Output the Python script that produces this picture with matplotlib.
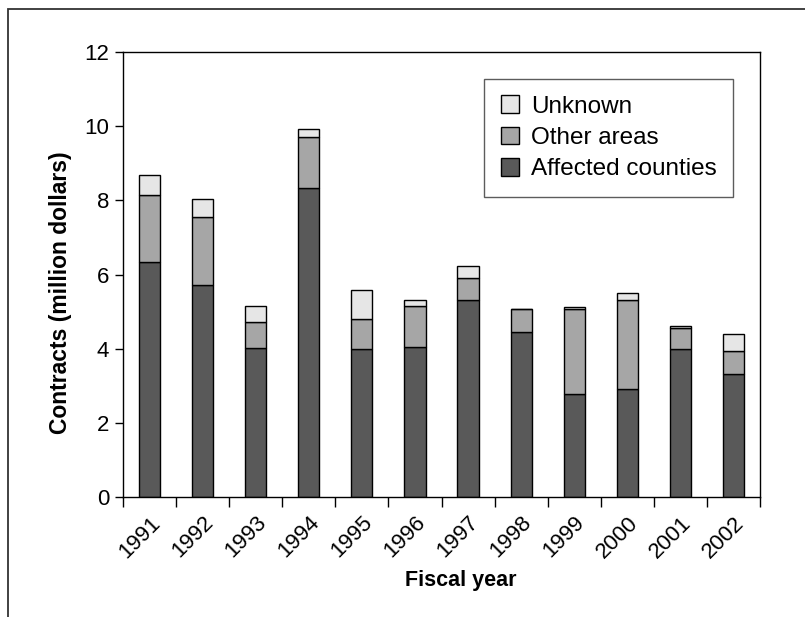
import matplotlib
matplotlib.use("Agg")
from matplotlib import pyplot as plt
from matplotlib.patches import Rectangle
import numpy as np

plt.rcParams['font.family'] = ['Liberation Sans', 'DejaVu Sans']

years = ['1991', '1992', '1993', '1994', '1995', '1996',
         '1997', '1998', '1999', '2000', '2001', '2002']
affected = [6.35, 5.71, 4.02, 8.32, 3.98, 4.04, 5.31, 4.45, 2.78, 2.90, 3.98, 3.32]
other = [1.79, 1.83, 0.69, 1.38, 0.82, 1.10, 0.59, 0.61, 2.30, 2.40, 0.57, 0.62]
unknown = [0.53, 0.49, 0.43, 0.22, 0.78, 0.18, 0.32, 0.02, 0.05, 0.19, 0.07, 0.46]

fig = plt.figure(figsize=(8.05, 6.17), dpi=100)
ax = fig.add_axes([0.1528, 0.1945, 0.7913, 0.7212])

# outer frame around the whole figure
fig.patches.append(Rectangle((8 / 805, -0.2), 1.2, 1.2 - 9 / 617,
                             transform=fig.transFigure, fill=False,
                             edgecolor='#333333', linewidth=1.3))

x = np.arange(len(years))
affected = np.array(affected)
other = np.array(other)
unknown = np.array(unknown)
w = 0.4
bar_kw = dict(width=w, edgecolor='black', linewidth=1.0)
ax.bar(x, affected, color='#595959', label='Affected counties', **bar_kw)
ax.bar(x, other, bottom=affected, color='#a6a6a6', label='Other areas', **bar_kw)
ax.bar(x, unknown, bottom=affected + other, color='#e6e6e6', label='Unknown', **bar_kw)

ax.set_xlim(-0.5, len(years) - 0.5)
ax.set_ylim(0, 12)
ax.set_yticks(range(0, 13, 2))
ax.tick_params(axis='y', direction='out', length=6, width=1, labelsize=16, pad=4)

# ticks sit between the categories, labels centred under the bars
ax.set_xticks(np.arange(-0.5, len(years), 1.0))
ax.set_xticklabels([])
ax.set_xticks(x, minor=True)
ax.set_xticklabels(years, minor=True, rotation=45, ha='right', va='top',
                   rotation_mode='anchor', fontsize=16)
ax.tick_params(axis='x', which='major', direction='out', length=7, width=1)
ax.tick_params(axis='x', which='minor', length=0, pad=11)

for s in ax.spines.values():
    s.set_linewidth(1.0)

ax.set_ylabel('Contracts (million dollars)', fontsize=16.5, fontweight='bold')
ax.yaxis.set_label_coords(-0.08, 0.46)
ax.set_xlabel('Fiscal year', fontsize=15.5, fontweight='bold')
ax.xaxis.set_label_coords(0.53, -0.163)

handles, labels = ax.get_legend_handles_labels()
leg = ax.legend(handles[::-1], labels[::-1], loc='upper right',
                bbox_to_anchor=(0.958, 0.94), fontsize=17.5, frameon=True,
                fancybox=False, edgecolor='#333333', handlelength=0.75,
                handleheight=0.75, handletextpad=0.5, borderpad=0.68,
                borderaxespad=0.0, labelspacing=0.37)
leg.get_frame().set_linewidth(1.0)

plt.savefig("out.png", dpi=100)
plt.close(fig)
